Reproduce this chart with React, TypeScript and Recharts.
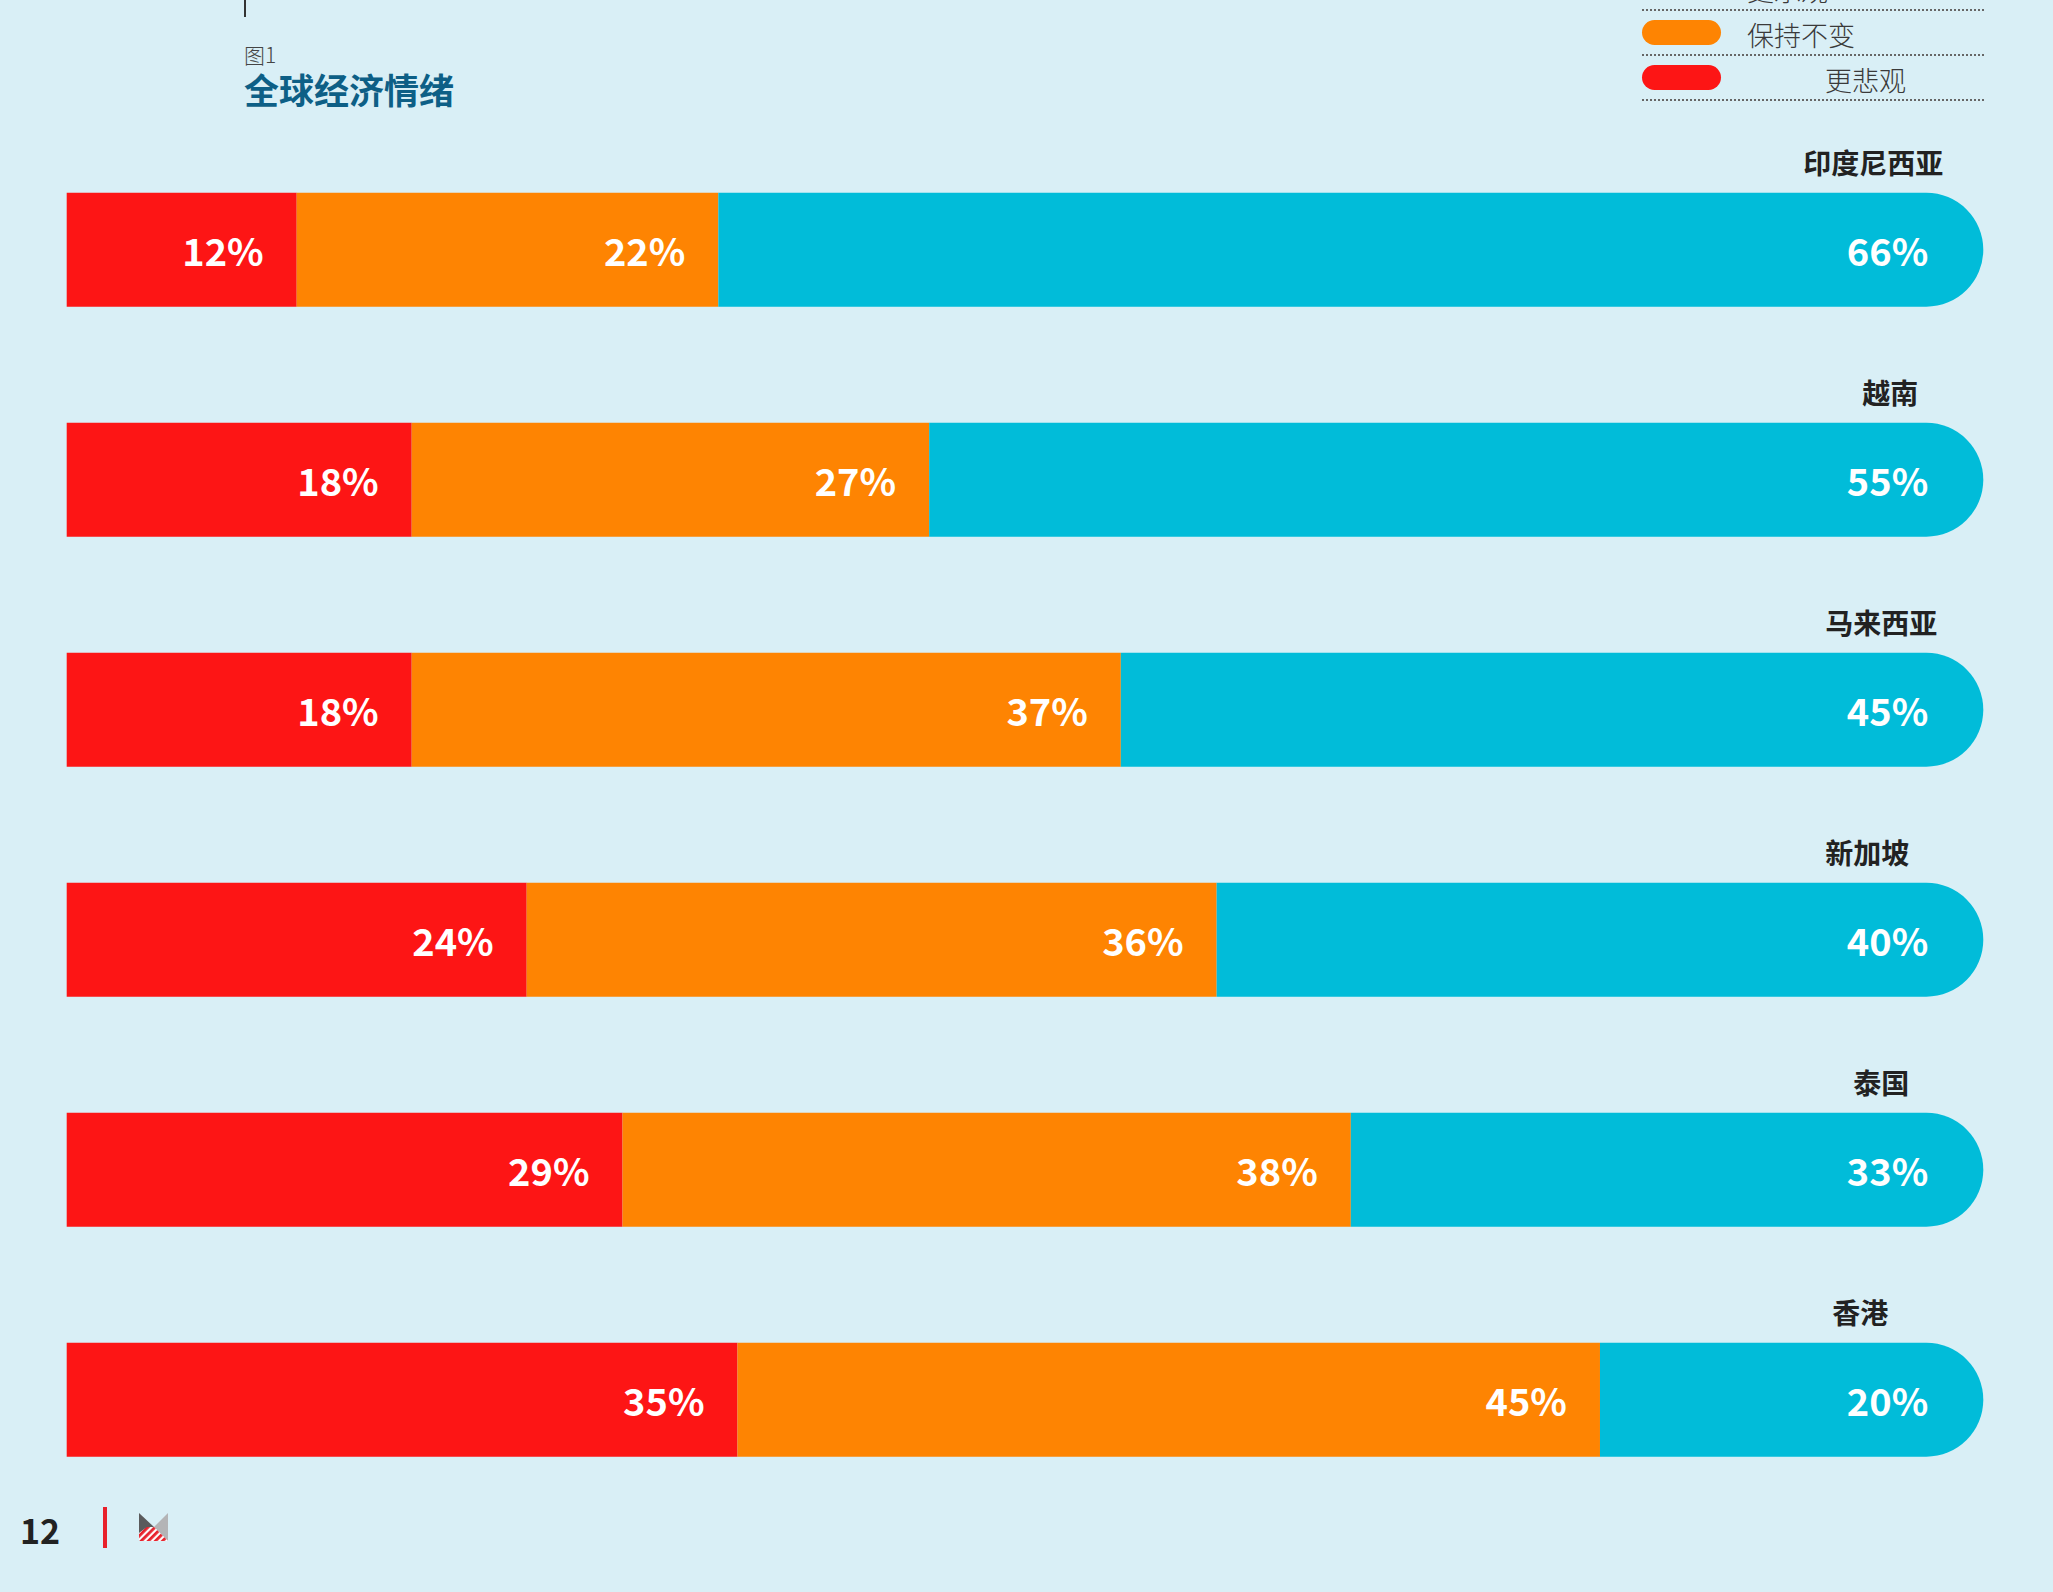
import React from "react";
import { BarChart, Bar, XAxis, YAxis, LabelList } from "recharts";

const countries = ["印度尼西亚", "越南", "马来西亚", "新加坡", "泰国", "香港"];
const pessimistic = [12, 18, 18, 24, 29, 35];
const unchanged = [22, 27, 37, 36, 38, 45];
const optimistic = [66, 55, 45, 40, 33, 20];

const seriesNames = ["更乐观", "保持不变", "更悲观"];
const seriesColors = ["#01bcd9", "#fe8402", "#fd1515"];

const titleSmall = "图1";
const titleMain = "全球经济情绪";
const pageNumber = "12";

const data = countries.map((c, i) => ({
  country: c,
  pessimistic: pessimistic[i],
  unchanged: unchanged[i],
  optimistic: optimistic[i],
}));

const FONT = "'Noto Sans CJK SC', 'Noto Sans', sans-serif";
const BG = "#d9eff6";

// layout: horizontal centre of each country name, measured back from the bar end
const countryLabelBack = [110, 93, 102, 116, 102, 123];
const legendTextLeft = [105, 105, 183];

const makeSegLabel = (offset: number) => (props: any) => {
  const x = Number(props.x);
  const y = Number(props.y);
  const w = Number(props.width);
  const h = Number(props.height);
  return (
    <text
      x={x + w - offset}
      y={y + h / 2}
      textAnchor="end"
      dominantBaseline="central"
      fill="#ffffff"
      fontSize={38}
      fontWeight={700}
      fontFamily={FONT}
    >
      {props.value}%
    </text>
  );
};

const CountryLabel = (props: any) => {
  const x = Number(props.x);
  const y = Number(props.y);
  const w = Number(props.width);
  const idx = Number(props.index) || 0;
  return (
    <text
      x={x + w - (countryLabelBack[idx] ?? 108)}
      y={y - 31}
      textAnchor="middle"
      dominantBaseline="central"
      fill="#222222"
      fontSize={28}
      fontWeight={700}
      fontFamily={FONT}
    >
      {props.value}
    </text>
  );
};

export default function App() {
  return (
    <div
      style={{
        position: "absolute",
        left: 0,
        top: 0,
        width: 2053,
        height: 1592,
        background: BG,
        overflow: "hidden",
        fontFamily: FONT,
      }}
    >
      <div style={{ position: "absolute", left: 244, top: 0, width: 2, height: 17, background: "#333" }} />
      <div
        style={{
          position: "absolute",
          left: 244,
          top: 43,
          fontSize: 21,
          fontWeight: 300,
          color: "#444",
          lineHeight: "22px",
          fontFamily: FONT,
        }}
      >
        {titleSmall}
      </div>
      <div
        style={{
          position: "absolute",
          left: 244,
          top: 69,
          fontSize: 35,
          fontWeight: 700,
          color: "#0d5f86",
          lineHeight: "40px",
          fontFamily: FONT,
        }}
      >
        {titleMain}
      </div>

      <div style={{ position: "absolute", left: 1642, top: -34, width: 342 }}>
        {seriesNames.map((name, i) => (
          <div
            key={name}
            style={{
              position: "relative",
              height: 45,
              borderBottom: "2px dotted #666",
              boxSizing: "border-box",
            }}
          >
            <div
              style={{
                position: "absolute",
                left: 0,
                top: 9,
                width: 79,
                height: 25,
                borderRadius: 13,
                background: seriesColors[i],
              }}
            />
            <div
              style={{
                position: "absolute",
                left: legendTextLeft[i],
                top: 7,
                fontSize: 27,
                fontWeight: 300,
                color: "#3a3a3a",
                lineHeight: "34px",
                whiteSpace: "nowrap",
                fontFamily: FONT,
              }}
            >
              {name}
            </div>
          </div>
        ))}
      </div>

      <div style={{ position: "absolute", left: 0, top: 0 }}>
        <BarChart
          width={2053}
          height={1592}
          data={data}
          layout="vertical"
          margin={{ top: 134.7, right: 69.7, bottom: 77.3, left: 66.7 }}
          barSize={114}
        >
          <XAxis type="number" domain={[0, 100]} hide />
          <YAxis type="category" dataKey="country" hide />
          <Bar dataKey="pessimistic" stackId="s" fill={seriesColors[2]} isAnimationActive={false}>
            <LabelList dataKey="pessimistic" content={makeSegLabel(33)} />
          </Bar>
          <Bar dataKey="unchanged" stackId="s" fill={seriesColors[1]} isAnimationActive={false}>
            <LabelList dataKey="unchanged" content={makeSegLabel(33)} />
          </Bar>
          <Bar
            dataKey="optimistic"
            stackId="s"
            fill={seriesColors[0]}
            radius={[0, 57, 57, 0]}
            isAnimationActive={false}
          >
            <LabelList dataKey="optimistic" content={makeSegLabel(55)} />
            <LabelList dataKey="country" content={CountryLabel} />
          </Bar>
        </BarChart>
      </div>

      <div
        style={{
          position: "absolute",
          left: 20,
          top: 1509,
          fontSize: 34,
          fontWeight: 700,
          color: "#222",
          lineHeight: "42px",
          fontFamily: FONT,
        }}
      >
        {pageNumber}
      </div>
      <div style={{ position: "absolute", left: 103, top: 1507, width: 4, height: 41, background: "#e8202a" }} />
      <svg style={{ position: "absolute", left: 139, top: 1513 }} width={30} height={29} viewBox="0 0 30 29">
        <defs>
          <pattern id="stripes" width="5" height="5" patternUnits="userSpaceOnUse" patternTransform="rotate(45)">
            <rect width="5" height="5" fill="#ffffff" />
            <rect width="2.8" height="5" fill="#e8202a" />
          </pattern>
        </defs>
        <polygon points="0,0 15,14 0,28" fill="#5a5a5c" />
        <polygon points="29,0 15,14 29,28" fill="#b4b4b6" />
        <polygon points="0,28 15,14 29,28" fill="url(#stripes)" />
        <polygon points="0,20 8,14 15,14 0,28" fill="url(#stripes)" />
      </svg>
    </div>
  );
}
